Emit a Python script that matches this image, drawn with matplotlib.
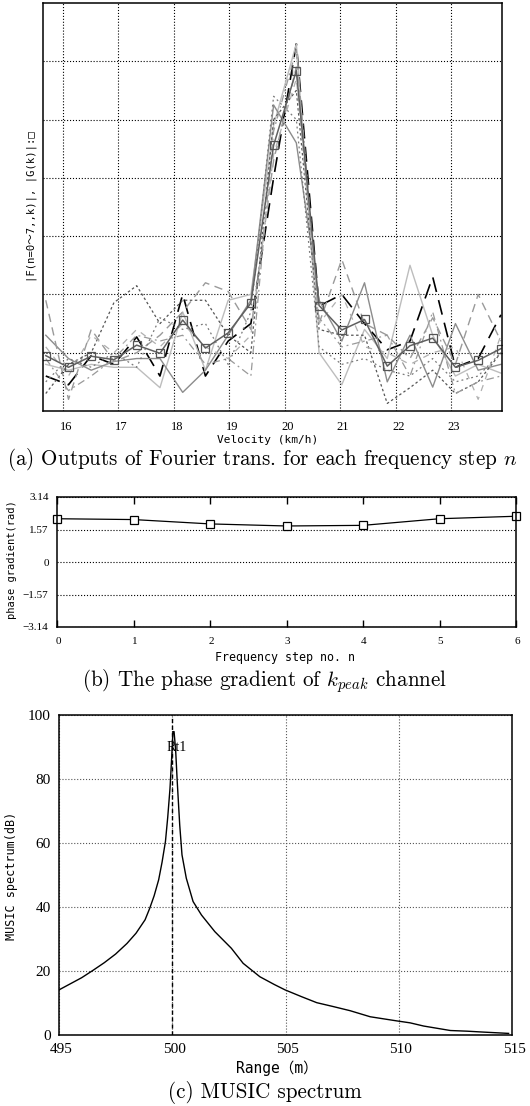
import matplotlib
matplotlib.use('Agg')
import matplotlib.pyplot as plt
import matplotlib.transforms as mtransforms

plt.rcParams['mathtext.fontset'] = 'cm'

# (a) velocity bins and Fourier outputs for n = 0..7
velocity = [15.69, 16.10, 16.51, 16.92, 17.33, 17.75, 18.16, 18.57, 18.98, 19.39,
            19.80, 20.21, 20.62, 21.03, 21.44, 21.85, 22.26, 22.67, 23.08, 23.49, 23.90]
f_n0 = [0.6, 0.45, 0.95, 0.8, 1.27, 0.6, 2.0, 0.6, 1.2, 1.5, 4.0, 6.3, 1.8, 2.0, 1.5, 1.05, 1.2, 2.3, 0.75, 0.9, 1.65]
f_n1 = [0.8, 0.7, 0.8, 0.75, 0.75, 0.4, 1.7, 0.7, 1.9, 2.0, 4.9, 6.3, 1.0, 0.45, 1.4, 0.9, 2.5, 1.3, 0.6, 0.8, 0.65]
f_n2 = [1.3, 0.9, 0.7, 0.85, 0.9, 0.9, 0.32, 0.7, 1.3, 1.9, 5.25, 4.6, 1.9, 1.2, 2.2, 0.5, 1.3, 0.41, 1.5, 0.7, 0.8]
f_n3 = [1.9, 0.2, 1.4, 0.85, 1.0, 1.3, 1.7, 2.2, 2.05, 1.4, 4.3, 5.9, 1.5, 2.6, 1.5, 1.3, 0.9, 1.6, 0.8, 2.0, 1.2]
f_n4 = [0.3, 0.8, 1.0, 1.86, 2.15, 1.5, 1.9, 1.9, 1.3, 1.0, 5.0, 5.5, 1.4, 1.3, 1.3, 0.13, 0.4, 0.7, 0.3, 0.5, 1.0]
f_n5 = [0.9, 0.35, 0.6, 0.9, 1.3, 1.2, 1.3, 0.8, 0.9, 0.6, 4.8, 6.2, 1.6, 1.1, 1.2, 1.3, 0.6, 1.7, 0.3, 0.5, 0.6]
f_n6 = [1.1, 0.6, 1.3, 1.0, 1.4, 1.1, 1.5, 1.1, 0.9, 1.3, 4.4, 5.7, 1.5, 2.0, 1.1, 1.0, 0.8, 1.0, 1.1, 0.2, 1.3]
f_n7 = [0.5, 0.9, 0.75, 1.0, 0.75, 1.6, 1.4, 1.5, 0.8, 1.7, 5.4, 5.0, 1.1, 0.8, 0.9, 0.7, 0.6, 0.9, 0.5, 0.6, 1.0]
g_k = [0.95, 0.75, 0.94, 0.88, 1.13, 0.99, 1.56, 1.08, 1.34, 1.85, 4.56, 5.84, 1.81, 1.39, 1.57, 0.77, 1.12, 1.25, 0.75, 0.87, 1.07]

# (b) phase gradient of k_peak channel
freq_step = [0, 1, 2, 3, 4, 5, 6]
phase_grad = [2.09, 2.05, 1.84, 1.74, 1.77, 2.09, 2.21]

# (c) MUSIC spectrum
range_m = [495.0, 495.5, 496.0, 496.5, 497.0, 497.5, 498.0, 498.4, 498.8, 499.0,
           499.2, 499.4, 499.55, 499.7, 499.8, 499.9, 499.97, 500.03, 500.08, 500.15,
           500.22, 500.33, 500.43, 500.62, 500.92, 501.29, 501.88, 502.61, 503.13, 503.87,
           504.5, 504.98, 505.7, 506.38, 507.1, 507.85, 508.74, 509.92, 510.5, 511.1,
           512.28, 513.0, 513.76, 514.85]
music_db = [14.1, 16.0, 17.9, 20.2, 22.6, 25.3, 28.6, 31.8, 36.0, 39.5,
            43.5, 48.5, 54.0, 60.5, 68.0, 77.0, 86.0, 94.8, 94.8, 89.0,
            79.2, 65.6, 56.3, 49.0, 41.7, 37.5, 32.3, 27.1, 22.4, 18.2,
            15.8, 14.1, 12.0, 10.1, 8.9, 7.6, 5.7, 4.4, 3.8, 2.8,
            1.4, 1.2, 0.9, 0.5]

W, H = 530, 1106
fig = plt.figure(figsize=(W / 100, H / 100), dpi=100)

mono = ['DejaVu Sans Mono', 'Noto Sans CJK JP']
serif = 'Liberation Serif'
cap_size = 15.2


def px_axes(left, top, right, bottom):
    return fig.add_axes([left / W, 1 - bottom / H, (right - left) / W, (bottom - top) / H])


def px_text(x, y, s, **kw):
    fig.text(x / W, 1 - y / H, s, ha='center', va='center', **kw)


def shift_labels(labels, dx_px):
    off = mtransforms.ScaledTranslation(dx_px / 100, 0, fig.dpi_scale_trans)
    for lab in labels:
        lab.set_fontfamily(serif)
        lab.set_transform(lab.get_transform() + off)


# ---- panel (a) ----
ax1 = px_axes(43, 3, 502, 411)
f_styles = [
    (f_n0, dict(color='black', lw=1.2, dashes=(9, 5))),
    (f_n1, dict(color='#bdbdbd', lw=1.0, ls='-')),
    (f_n2, dict(color='#8c8c8c', lw=1.0, ls='-')),
    (f_n3, dict(color='#9a9a9a', lw=1.0, dashes=(6, 4))),
    (f_n4, dict(color='#555555', lw=0.9, dashes=(2, 2))),
    (f_n5, dict(color='#999999', lw=0.9, dashes=(6, 3, 1.5, 3))),
    (f_n6, dict(color='#b0b0b0', lw=0.9, dashes=(5, 5))),
    (f_n7, dict(color='#7a7a7a', lw=0.9, dashes=(1.5, 2.5))),
]
for series, style in f_styles:
    ax1.plot(velocity, series, **style)
ax1.plot(velocity, g_k, color='#606060', lw=1.1, marker='s', markersize=6,
         markerfacecolor='none', markeredgecolor='#555555', markeredgewidth=0.9)
ax1.set_xlim(15.64, 23.92)
ax1.set_ylim(0, 7)
ax1.set_xticks(range(16, 24))
ax1.set_yticks(range(1, 7))
ax1.set_yticklabels([])
ax1.tick_params(length=0, labelsize=9, pad=7)
shift_labels(ax1.get_xticklabels(), 3)
ax1.grid(True, color='black', linestyle=':', linewidth=0.8)
for sp in ax1.spines.values():
    sp.set_linewidth(1.1)
px_text(32, 207, '|F(n=0〜7,,k)|, |G(k)|:□', rotation=90, fontsize=7.6, family=mono)
px_text(268, 440, 'Velocity (km/h)', fontsize=8, family=mono)
px_text(262, 459, '(a) Outputs of Fourier trans. for each frequency step $n$',
        fontsize=cap_size, family='cmr10')

# ---- panel (b) ----
ax2 = px_axes(57, 497, 516, 627)
ax2.plot(freq_step, phase_grad, color='black', lw=0.9, marker='s', markersize=6,
         markerfacecolor='white', markeredgecolor='black', markeredgewidth=0.9, clip_on=False)
ax2.set_xlim(0, 6)
ax2.set_ylim(-3.14, 3.14)
ax2.set_xticks(freq_step)
ax2.set_yticks([-3.14, -1.57, 0, 1.57, 3.14])
ax2.set_yticklabels(['\u22123.14', '\u22121.57', '0', '1.57', '3.14'])
ax2.tick_params(axis='x', direction='in', top=True, length=5, width=1, labelsize=8, pad=7)
ax2.tick_params(axis='y', length=0, labelsize=8, pad=6)
shift_labels(ax2.get_xticklabels(), 1)
shift_labels(ax2.get_yticklabels(), 0)
ax2.yaxis.grid(True, color='black', linestyle=':', linewidth=0.8)
for sp in ax2.spines.values():
    sp.set_linewidth(1.1)
px_text(12, 560, 'phase gradient(rad)', rotation=90, fontsize=7.5, family=mono)
px_text(285, 658, 'Frequency step no. n', fontsize=8.4, family=mono)
px_text(265, 681, '(b) The phase gradient of $k_{peak}$ channel', fontsize=cap_size, family='cmr10')

# ---- panel (c) ----
ax3 = px_axes(59, 715, 512, 1035)
ax3.plot(range_m, music_db, color='black', lw=1.0)
ax3.axvline(500, color='black', lw=1.0, dashes=(3, 2))
ax3.text(500.21, 89.7, 'Rt1', ha='center', va='center', fontsize=10, family=serif)
ax3.set_xlim(495, 515)
ax3.set_ylim(0, 100)
ax3.set_xticks([495, 500, 505, 510, 515])
ax3.set_yticks(range(0, 101, 20))
ax3.tick_params(length=0, labelsize=11, pad=6)
shift_labels(ax3.get_xticklabels(), 2)
shift_labels(ax3.get_yticklabels(), 0)
ax3.grid(True, color='#555555', linestyle=':', linewidth=0.8)
for sp in ax3.spines.values():
    sp.set_linewidth(1.1)
px_text(12, 876, 'MUSIC spectrum(dB)', rotation=90, fontsize=8.5, family=mono)
px_text(277, 1068, 'Range（m）', fontsize=10.5, family=mono)
px_text(265, 1093, '(c) MUSIC spectrum', fontsize=cap_size, family='cmr10')

fig.savefig('out.png', dpi=100)
